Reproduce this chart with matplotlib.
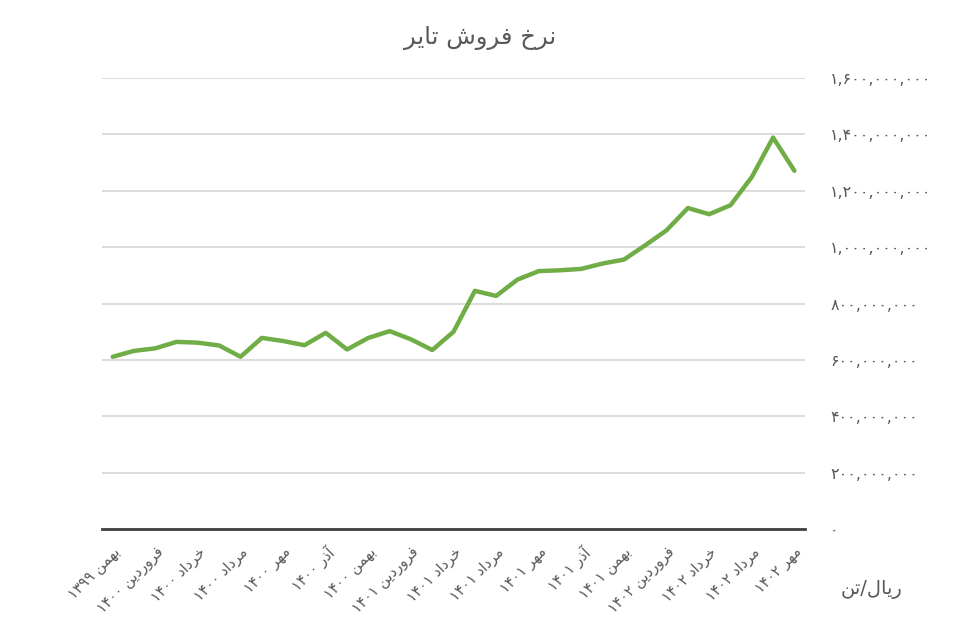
import re
import numpy as np
import matplotlib
matplotlib.use('Agg')
import matplotlib.pyplot as plt
from matplotlib.ticker import FuncFormatter

# قیمت فروش تایر (میلیون ریال بر تن) - ماهانه از بهمن ۱۳۹۹ تا مهر ۱۴۰۲
price_million = [611, 632, 641, 664, 661, 651, 611, 678, 667, 652, 696, 637,
                 678, 702, 673, 635, 700, 845, 827, 885, 915, 918, 923, 942,
                 956, 1007, 1060, 1139, 1117, 1149, 1249, 1389, 1271]

# برچسب‌های محور افقی (هر دو ماه یک برچسب)
month_labels = ['بهمن ۱۳۹۹', 'فروردین ۱۴۰۰', 'خرداد ۱۴۰۰', 'مرداد ۱۴۰۰',
                'مهر ۱۴۰۰', 'آذر ۱۴۰۰', 'بهمن ۱۴۰۰', 'فروردین ۱۴۰۱',
                'خرداد ۱۴۰۱', 'مرداد ۱۴۰۱', 'مهر ۱۴۰۱', 'آذر ۱۴۰۱',
                'بهمن ۱۴۰۱', 'فروردین ۱۴۰۲', 'خرداد ۱۴۰۲', 'مرداد ۱۴۰۲',
                'مهر ۱۴۰۲']

y_ticks = [0, 200, 400, 600, 800, 1000, 1200, 1400, 1600]

title = 'نرخ فروش تایر'
unit = 'ریال/تن'

# شکل‌های حروف (جدا، پایانی، آغازی، میانی)
FORMS = {
    'ا': ('\uFE8D', '\uFE8E', None, None),
    'آ': ('\uFE81', '\uFE82', None, None),
    'ب': ('\uFE8F', '\uFE90', '\uFE91', '\uFE92'),
    'ت': ('\uFE95', '\uFE96', '\uFE97', '\uFE98'),
    'خ': ('\uFEA5', '\uFEA6', '\uFEA7', '\uFEA8'),
    'د': ('\uFEA9', '\uFEAA', None, None),
    'ذ': ('\uFEAB', '\uFEAC', None, None),
    'ر': ('\uFEAD', '\uFEAE', None, None),
    'ز': ('\uFEAF', '\uFEB0', None, None),
    'ش': ('\uFEB5', '\uFEB6', '\uFEB7', '\uFEB8'),
    'ف': ('\uFED1', '\uFED2', '\uFED3', '\uFED4'),
    'ل': ('\uFEDD', '\uFEDE', '\uFEDF', '\uFEE0'),
    'م': ('\uFEE1', '\uFEE2', '\uFEE3', '\uFEE4'),
    'ن': ('\uFEE5', '\uFEE6', '\uFEE7', '\uFEE8'),
    'ه': ('\uFEE9', '\uFEEA', '\uFEEB', '\uFEEC'),
    'و': ('\uFEED', '\uFEEE', None, None),
    'ی': ('\uFEEF', '\uFEF0', '\uFEF3', '\uFEF4'),
}


def fa(text):
    """اتصال حروف و راست‌به‌چپ کردن متن فارسی"""
    out = []
    for i, ch in enumerate(text):
        if ch not in FORMS:
            out.append(ch)
            continue
        prev = text[i - 1] if i > 0 else ''
        nxt = text[i + 1] if i + 1 < len(text) else ''
        jp = prev in FORMS and FORMS[prev][2] is not None
        jn = FORMS[ch][2] is not None and nxt in FORMS
        iso, fin, ini, med = FORMS[ch]
        out.append(med if (jp and jn) else fin if jp else ini if jn else iso)
    vis = ''.join(reversed(out))
    return re.sub('[۰-۹,]+', lambda m: m.group(0)[::-1], vis)


def fa_digits(s):
    return s.translate(str.maketrans('0123456789', '۰۱۲۳۴۵۶۷۸۹'))


plt.rcParams['font.family'] = ['DejaVu Sans']
grey = '#595959'

fig = plt.figure(figsize=(9.63, 6.35), dpi=100)
ax = fig.add_axes([0.106, 0.167, 0.73, 0.71])

x = np.arange(len(price_million))
ax.plot(x, np.array(price_million) * 1e6, color='#70AD47', linewidth=3.2,
        solid_capstyle='round', solid_joinstyle='round', zorder=3)

ax.set_xlim(-0.5, len(price_million) - 0.5)
ax.set_ylim(0, 1.6e9)
ax.set_yticks([v * 1e6 for v in y_ticks])
ax.yaxis.tick_right()
ax.yaxis.set_major_formatter(FuncFormatter(lambda v, p: fa_digits(f'{int(round(v)):,}')))
ax.tick_params(axis='y', length=0, pad=18, labelsize=11.5, labelcolor=grey)
ax.grid(axis='y', color='#d9d9d9', linewidth=1.3)
ax.set_axisbelow(True)

ax.set_xticks(x[::2])
ax.set_xticklabels([fa(s) for s in month_labels], rotation=45, ha='right',
                   rotation_mode='anchor', fontsize=10.5, color=grey)
ax.tick_params(axis='x', length=0, pad=11)

for s in ['top', 'left', 'right']:
    ax.spines[s].set_visible(False)
ax.spines['bottom'].set_color('#404040')
ax.spines['bottom'].set_linewidth(2)

fig.text(0.498, 0.94, fa(title), ha='center', va='center', fontsize=17.5, color=grey)
fig.text(0.905, 0.072, fa(unit), ha='center', va='center', fontsize=14, color=grey)

plt.savefig('out.png', dpi=100)
